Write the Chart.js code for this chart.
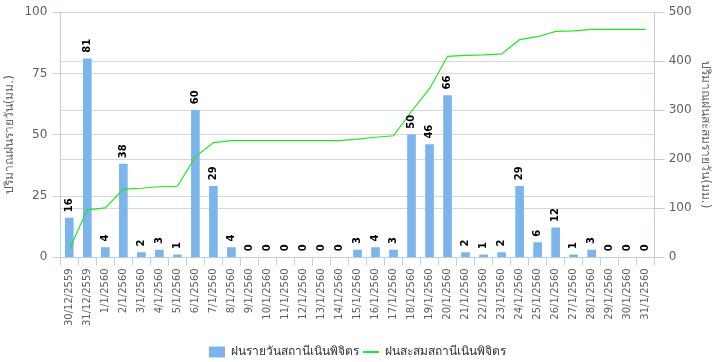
<!DOCTYPE html>
<html>
<head>
<meta charset="utf-8">
<script src="https://cdn.jsdelivr.net/npm/chart.js@4/dist/chart.umd.min.js"></script>
<style>
  body { margin: 0; background: #fff; }
  #wrap { width: 718px; height: 362px; }
</style>
</head>
<body>
<div id="wrap"><canvas id="chart" width="718" height="362"></canvas></div>
<script>
const days = ['30/12/2559', '31/12/2559', '1/1/2560', '2/1/2560', '3/1/2560', '4/1/2560', '5/1/2560',
  '6/1/2560', '7/1/2560', '8/1/2560', '9/1/2560', '10/1/2560', '11/1/2560', '12/1/2560', '13/1/2560',
  '14/1/2560', '15/1/2560', '16/1/2560', '17/1/2560', '18/1/2560', '19/1/2560', '20/1/2560',
  '21/1/2560', '22/1/2560', '23/1/2560', '24/1/2560', '25/1/2560', '26/1/2560', '27/1/2560',
  '28/1/2560', '29/1/2560', '30/1/2560', '31/1/2560'];
const rainDaily = [16, 81, 4, 38, 2, 3, 1, 60, 29, 4, 0, 0, 0, 0, 0, 0, 3, 4, 3, 50, 46, 66,
  2, 1, 2, 29, 6, 12, 1, 3, 0, 0, 0];
const rainTotal = [16, 97, 101, 139, 141, 144, 145, 205, 234, 238, 238, 238, 238, 238, 238, 238,
  241, 245, 248, 298, 344, 410, 412, 413, 415, 444, 450, 461, 462, 465, 465, 465, 465];
const leftTicks = [0, 25, 50, 75, 100];
const rightTicks = [0, 100, 200, 300, 400, 500];

const FONT = '"DejaVu Sans", "Noto Sans", sans-serif';
const axisLine = '#C0D0E0';
const gridLine = '#D8D8D8';

// numbers on top of the bars, turned on their side
const barLabels = {
  id: 'barLabels',
  afterDatasetsDraw(chart) {
    const ctx = chart.ctx;
    const meta = chart.getDatasetMeta(0);
    ctx.save();
    ctx.font = 'bold 10px ' + FONT;
    ctx.fillStyle = '#000';
    ctx.textAlign = 'left';
    ctx.textBaseline = 'middle';
    meta.data.forEach((bar, i) => {
      ctx.save();
      ctx.translate(bar.x, bar.y - 6);
      ctx.rotate(-Math.PI / 2);
      ctx.fillText(String(rainDaily[i]), 0, 0);
      ctx.restore();
    });
    ctx.restore();
  }
};

const ctx = document.getElementById('chart').getContext('2d');
const myChart = new Chart(ctx, {
  type: 'bar',
  data: {
    labels: days,
    datasets: [{
      label: 'ฝนรายวันสถานีเนินพิจิตร',
      data: rainDaily,
      backgroundColor: '#7CB5EC',
      barThickness: 8,
      yAxisID: 'y',
      order: 1,
      pointStyle: 'rect'
    }, {
      type: 'line',
      label: 'ฝนสะสมสถานีเนินพิจิตร',
      data: rainTotal,
      borderColor: '#22E622',
      backgroundColor: '#22E622',
      borderWidth: 1.2,
      pointRadius: 0,
      tension: 0,
      yAxisID: 'y1',
      order: 0,
      pointStyle: 'line'
    }]
  },
  options: {
    responsive: false,
    animation: false,
    layout: { padding: { left: 1, right: 4, top: 4, bottom: -6 } },
    plugins: {
      tooltip: { enabled: false },
      legend: {
        position: 'bottom',
        labels: {
          usePointStyle: true,
          pointStyleWidth: 16,
          boxHeight: 11,
          padding: 4,
          color: '#333',
          font: { family: FONT, size: 12 },
          sort: (a, b) => a.datasetIndex - b.datasetIndex,
          generateLabels(chart) {
            const items = Chart.defaults.plugins.legend.labels.generateLabels(chart);
            items.forEach(it => { if (it.pointStyle === 'line') it.lineWidth = 2; else it.lineWidth = 0; });
            return items;
          }
        }
      }
    },
    scales: {
      x: {
        offset: true,
        afterFit: axis => { axis.height += 13; },
        grid: { display: true, drawOnChartArea: false, tickLength: 8, tickColor: axisLine, offset: true },
        border: { color: axisLine },
        ticks: { autoSkip: false, minRotation: 90, maxRotation: 90, color: '#606060', padding: 3,
          font: { family: FONT, size: 10 } }
      },
      y: {
        position: 'left',
        min: 0, max: 100,
        afterBuildTicks: axis => { axis.ticks = leftTicks.map(v => ({ value: v })); },
        grid: { color: gridLine, tickColor: axisLine, tickLength: 8 },
        border: { color: axisLine },
        ticks: { color: '#606060', font: { family: FONT, size: 12 }, padding: 5 },
        title: { display: true, text: 'ปริมาณฝนรายวัน(มม.)', color: '#666', padding: 2,
          font: { family: FONT, size: 12 } }
      },
      y1: {
        position: 'right',
        min: 0, max: 500,
        afterBuildTicks: axis => { axis.ticks = rightTicks.map(v => ({ value: v })); },
        grid: { color: gridLine, tickColor: axisLine, tickLength: 10 },
        border: { color: axisLine },
        ticks: { color: '#606060', font: { family: FONT, size: 12 }, padding: 4 },
        title: { display: true, text: 'ปริมาณฝนสะสมรายวัน(มม.)', color: '#666', padding: 2,
          font: { family: FONT, size: 12 } }
      }
    }
  },
  plugins: [barLabels]
});
</script>
</body>
</html>
